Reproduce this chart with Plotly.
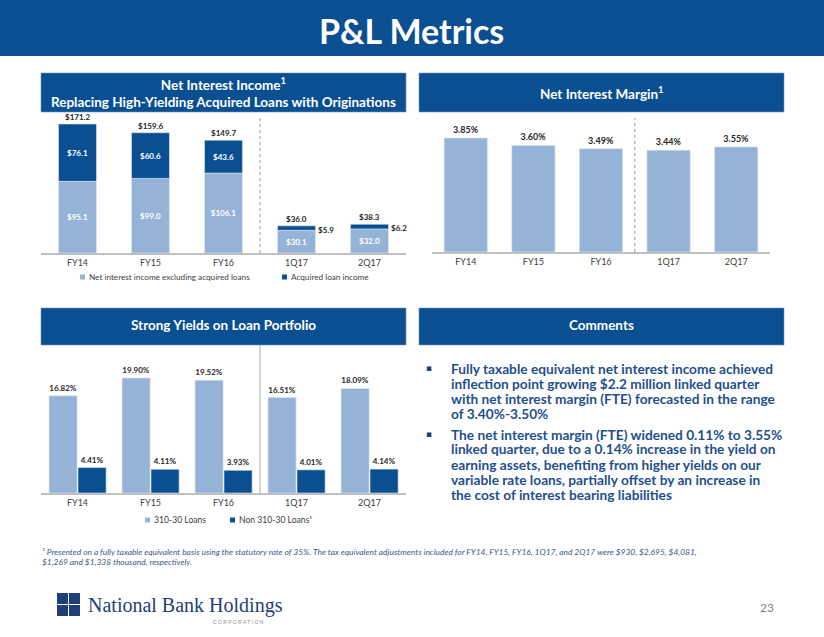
import plotly.graph_objects as go

W, H = 824, 637

# ---------------- data ----------------
categories = ["FY14", "FY15", "FY16", "1Q17", "2Q17"]
nii_excl_acquired = [95.1, 99.0, 106.1, 30.1, 32.0]
acquired_loan_income = [76.1, 60.6, 43.6, 5.9, 6.2]
nii_total = [171.2, 159.6, 149.7, 36.0, 38.3]
net_interest_margin = [3.85, 3.60, 3.49, 3.44, 3.55]
yield_310_30 = [16.82, 19.90, 19.52, 16.51, 18.09]
yield_non_310_30 = [4.41, 4.11, 3.93, 4.01, 4.14]

nii_names = ["Net interest income excluding acquired loans", "Acquired loan income"]
yield_names = ["310-30 Loans", "Non 310-30 Loans¹"]

BLUE = "#0b4f93"
LIGHT = "#95b3d7"
FONT = "Lato"


def X(px):
    return px / W


def Y(py):
    return 1 - py / H


fig = go.Figure()

# ---------------- chart 1: Net interest income ----------------
fig.add_trace(go.Bar(
    x=categories, y=nii_excl_acquired, name=nii_names[0],
    marker=dict(color=LIGHT, line=dict(color="#dce6f2", width=0.6)), width=0.52,
    text=[f"${v:.1f}" for v in nii_excl_acquired], textposition="inside",
    insidetextanchor="middle", textangle=0,
    insidetextfont=dict(family=FONT, size=8, color="white", weight="bold"),
    xaxis="x", yaxis="y", showlegend=False, cliponaxis=False,
))
fig.add_trace(go.Bar(
    x=categories, y=acquired_loan_income, base=nii_excl_acquired, name=nii_names[1],
    marker=dict(color=BLUE, line=dict(color="#dce6f2", width=0.6)), width=0.52,
    text=[f"${v:.1f}" for v in acquired_loan_income],
    textposition=["inside", "inside", "inside", "none", "none"],
    insidetextanchor="middle", textangle=0,
    insidetextfont=dict(family=FONT, size=8, color="white", weight="bold"),
    xaxis="x", yaxis="y", showlegend=False, cliponaxis=False,
))

# ---------------- chart 2: Net interest margin ----------------
fig.add_trace(go.Bar(
    x=categories, y=net_interest_margin, name="Net Interest Margin",
    marker=dict(color=LIGHT, line=dict(color="#dce6f2", width=0.6)), width=0.64,
    text=[f"{v:.2f}%" for v in net_interest_margin], textposition="outside", textangle=0,
    outsidetextfont=dict(family=FONT, size=9, color="#262626", weight="bold"),
    xaxis="x2", yaxis="y2", showlegend=False, cliponaxis=False,
))

# ---------------- chart 3: Yields ----------------
fig.add_trace(go.Bar(
    x=categories, y=yield_310_30, name=yield_names[0],
    marker=dict(color=LIGHT, line=dict(color="#dce6f2", width=0.6)), width=0.385, offset=-0.39,
    text=[f"{v:.2f}%" for v in yield_310_30], textposition="outside", textangle=0,
    outsidetextfont=dict(family=FONT, size=8, color="#262626", weight="bold"),
    xaxis="x3", yaxis="y3", showlegend=False, cliponaxis=False,
))
fig.add_trace(go.Bar(
    x=categories, y=yield_non_310_30, name=yield_names[1],
    marker=dict(color=BLUE, line=dict(color="#dce6f2", width=0.6)), width=0.385, offset=0.007,
    text=[f"{v:.2f}%" for v in yield_non_310_30], textposition="outside", textangle=0,
    outsidetextfont=dict(family=FONT, size=8, color="#262626", weight="bold"),
    xaxis="x3", yaxis="y3", showlegend=False, cliponaxis=False,
))

xcommon = dict(type="category", showline=True, linecolor="#c0c0c0", linewidth=1.5,
               ticks="", showgrid=False, zeroline=False, fixedrange=True,
               tickfont=dict(family=FONT, size=9, color="#404040"), range=[-0.5, 4.5])
ycommon = dict(visible=False, showgrid=False, zeroline=False, fixedrange=True)

nii_top = max(nii_total) * 140 / 129
nim_top = max(net_interest_margin) * 140 / 114
yld_top = max(yield_310_30) * 148 / 115

fig.update_layout(
    width=W, height=H, margin=dict(l=0, r=0, t=0, b=0),
    paper_bgcolor="white", plot_bgcolor="white", barmode="overlay",
    font=dict(family=FONT),
    xaxis=dict(domain=[X(41), X(406)], anchor="y", **xcommon),
    yaxis=dict(domain=[Y(253), Y(113)], anchor="x", range=[0, nii_top], **ycommon),
    xaxis2=dict(domain=[X(432), X(770)], anchor="y2", **xcommon),
    yaxis2=dict(domain=[Y(252), Y(112)], anchor="x2", range=[0, nim_top], **ycommon),
    xaxis3=dict(domain=[X(41), X(406)], anchor="y3", **xcommon),
    yaxis3=dict(domain=[Y(493), Y(345)], anchor="x3", range=[0, yld_top], **ycommon),
)

shapes = []
annotations = []


def text_at(px, py, text, size, color, family=FONT, xanchor="center", yanchor="middle"):
    annotations.append(dict(xref="paper", yref="paper", x=X(px), y=Y(py), text=text,
                            showarrow=False, xanchor=xanchor, yanchor=yanchor,
                            font=dict(family=family, size=size, color=color)))


# title band
shapes.append(dict(type="rect", xref="paper", yref="paper", x0=0, x1=1, y0=Y(56), y1=1,
                   fillcolor=BLUE, line=dict(width=0), layer="below"))
text_at(411, 31, "<b>P&L Metrics</b>", 34, "white")

# panel headers
headers = [
    (41, 406, 73, 112, "<b>Net Interest Income<sup>1</sup><br>"
                       "Replacing High-Yielding Acquired Loans with Originations</b>", 93),
    (419, 784, 73, 112, "<b>Net Interest Margin<sup>1</sup></b>", 93),
    (41, 406, 308, 345, "<b>Strong Yields on Loan Portfolio</b>", 325),
    (419, 784, 308, 345, "<b>Comments</b>", 325),
]
for x0, x1, y0, y1, t, yy in headers:
    shapes.append(dict(type="rect", xref="paper", yref="paper", x0=X(x0), x1=X(x1),
                       y0=Y(y1), y1=Y(y0), fillcolor=BLUE,
                       line=dict(color="#6f93c0", width=0.6), layer="below"))
    text_at((x0 + x1) / 2, yy, t, 13.5, "white")

# separators
shapes.append(dict(type="line", xref="x", yref="paper", x0=2.5, x1=2.5, y0=Y(253), y1=Y(118),
                   line=dict(color="#8a9cb4", width=1, dash="dot")))
shapes.append(dict(type="line", xref="x2", yref="paper", x0=2.5, x1=2.5, y0=Y(252), y1=Y(118),
                   line=dict(color="#8a9cb4", width=1, dash="dot")))
shapes.append(dict(type="line", xref="x3", yref="paper", x0=2.5, x1=2.5, y0=Y(493), y1=Y(345),
                   line=dict(color="#b4bcc8", width=1.2)))

# chart 1 totals and small segment labels
for i, c in enumerate(categories):
    annotations.append(dict(xref="x", yref="y", x=c, y=nii_total[i], text=f"<b>${nii_total[i]:.1f}</b>",
                            showarrow=False, xanchor="center", yanchor="bottom", yshift=0,
                            font=dict(family=FONT, size=8, color="#262626")))
    if i >= 3:
        annotations.append(dict(xref="x", yref="y", x=i + 0.27,
                                y=nii_excl_acquired[i] + acquired_loan_income[i] / 2 - 2,
                                text=f"<b>${acquired_loan_income[i]:.1f}</b>", showarrow=False,
                                xanchor="left", yanchor="middle",
                                font=dict(family=FONT, size=8, color="#262626")))


# manual legends
def legend_item(px, py, color, text, size):
    shapes.append(dict(type="rect", xref="paper", yref="paper", x0=X(px), x1=X(px + 5),
                       y0=Y(py + 2.5), y1=Y(py - 2.5), fillcolor=color, line=dict(width=0)))
    text_at(px + 7, py, text, size, "#404040", xanchor="left")


legend_item(80, 277, LIGHT, nii_names[0], 8.2)
legend_item(282, 277, BLUE, nii_names[1], 8.2)
legend_item(145, 520, LIGHT, yield_names[0], 8.6)
legend_item(230, 520, BLUE, yield_names[1], 8.6)

# comments
comment_lines = [
    (368, "Fully taxable equivalent net interest income achieved", True),
    (383, "inflection point growing $2.2 million linked quarter", False),
    (398, "with net interest margin (FTE) forecasted in the range", False),
    (413, "of 3.40%-3.50%", False),
    (434, "The net interest margin (FTE) widened 0.11% to 3.55%", True),
    (449, "linked quarter, due to a 0.14% increase in the yield on", False),
    (464, "earning assets, benefiting from higher yields on our", False),
    (479, "variable rate loans, partially offset by an increase in", False),
    (494, "the cost of interest bearing liabilities", False),
]
for py, t, bullet in comment_lines:
    text_at(449, py, f"<b>{t}</b>", 13.7, "#1f4f8f", xanchor="left")
    if bullet:
        text_at(429, py, "▪", 9, "#1f3f6f", family="DejaVu Sans")

# footnote
foot1 = ("¹ Presented on a fully taxable equivalent basis using the statutory rate of 35%. The tax equivalent "
         "adjustments included for FY14, FY15, FY16, 1Q17, and 2Q17 were $930, $2,695, $4,081,")
foot2 = "$1,269 and $1,338 thousand, respectively."
text_at(40, 552, f"<i>{foot1}</i>", 8.4, "#3b5a8a", xanchor="left")
text_at(40, 562, f"<i>{foot2}</i>", 8.4, "#3b5a8a", xanchor="left")

# logo
for (a, b) in [(57, 593), (69, 593), (57, 605), (69, 605)]:
    shapes.append(dict(type="rect", xref="paper", yref="paper", x0=X(a), x1=X(a + 11),
                       y0=Y(b + 11), y1=Y(b), fillcolor="#1e3f78", line=dict(width=0)))
text_at(86, 605, "National Bank Holdings", 20, "#1e3f78", family="Liberation Serif", xanchor="left")
text_at(238, 622, "C O R P O R A T I O N", 5, "#8c8c8c", family="Liberation Sans")
text_at(767, 607, "23", 12, "#7f7f7f")

fig.update_layout(shapes=shapes, annotations=annotations)
fig.write_html("out.html", config={"displayModeBar": False},
               post_script="document.body.style.margin='0';")
